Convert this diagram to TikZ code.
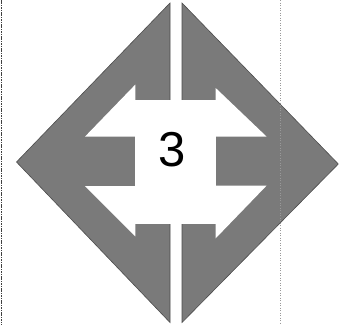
\documentclass[tikz,border=0pt]{standalone}
\usepackage{fontspec}
\setmainfont{Liberation Sans}
\begin{document}
\begin{tikzpicture}[x=1pt,y=-1pt,
  halfpiece/.style={fill=black!52, draw=black!70, line width=0.6pt, line join=miter},
  cutout/.style={fill=white, draw=none},
  scanline/.style={draw=black!75, line width=1.3pt, dash pattern=on 1.6pt off 0.8pt},
  faintline/.style={draw=black!40, line width=0.6pt, dash pattern=on 1pt off 1.5pt}]
\useasboundingbox (0,0) rectangle (340,325);
% scan border lines
\coordinate (s1) at (1.2,0);
\coordinate (s2) at (1.2,325);
\draw[scanline] (s1) -- (s2);
% left and right halves of the diamond
\path[halfpiece] (170,3) -- (16.5,162) -- (170,322.5) -- cycle;
\path[halfpiece] (182,3) -- (338.3,164) -- (182,322.5) -- cycle;
% white cut-outs (left)
\path[cutout] (135.3,84.6) -- (85,136.6) -- (135.3,136.6) -- cycle;
\path[cutout] (85,186) -- (135.3,186) -- (135.3,236.3) -- cycle;
% white cut-outs (right)
\path[cutout] (215.7,88) -- (266.7,136.7) -- (215.7,136.7) -- cycle;
\path[cutout] (266.7,185.5) -- (215.7,185.5) -- (215.7,238.3) -- cycle;
% centre square
\path[cutout] (135,100) rectangle (216,224.3);
% faint scan line on the right
\coordinate (f1) at (280.7,0);
\coordinate (f2) at (280.7,325);
\draw[faintline] (f1) -- (f2);
\node[inner sep=0pt, font=\fontsize{49}{49}\selectfont] (three) at (171.7,149.5) {3};
\end{tikzpicture}
\end{document}
